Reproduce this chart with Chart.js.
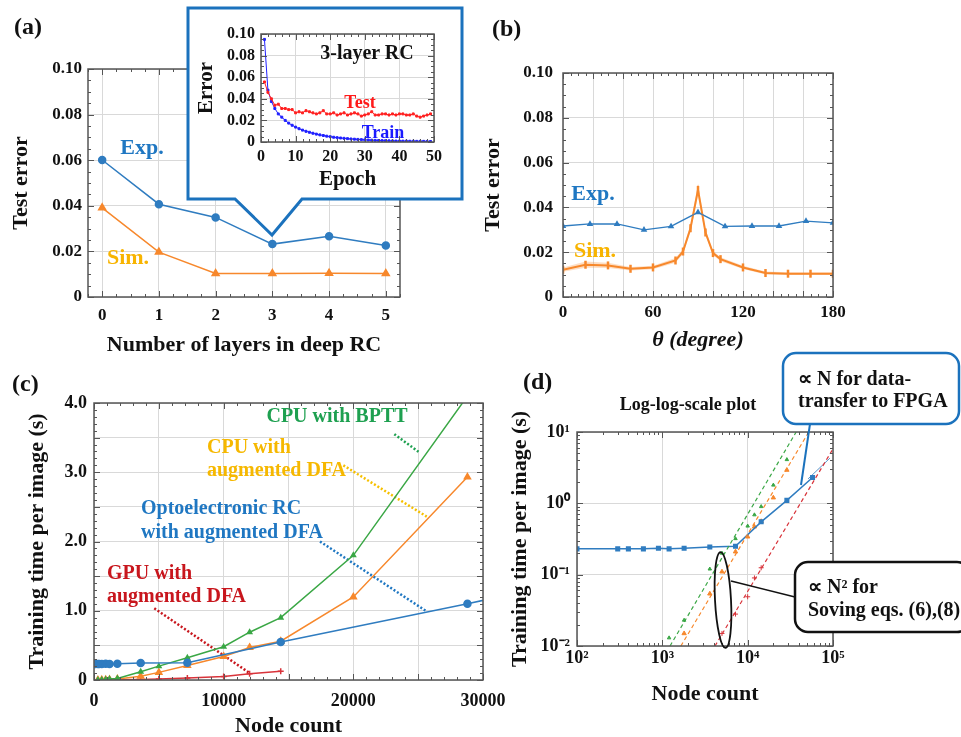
<!DOCTYPE html>
<html lang="en">
<head>
<meta charset="UTF-8" />
<title>Deep RC: test error and training time</title>
<script src="https://cdn.jsdelivr.net/npm/chart.js"></script>
<style>
  body { margin: 0; width: 961px; height: 737px; position: relative; overflow: hidden; background: #fff;
         font-family: "Liberation Serif", serif; font-weight: bold; color: #111; }
  .box { position: absolute; }
  .box canvas { display: block; }
  svg { position: absolute; left: 0; top: 0; }
  .t { position: absolute; white-space: nowrap; line-height: 1; }
  .c { transform: translate(-50%, -50%); }
  .l { transform: translateY(-50%); }
</style>
</head>
<body>
<div class="box" style="left:0;top:50px"><canvas id="chartA" width="410" height="312"></canvas></div>
<svg width="961" height="737">
  <path d="M188,8 H462 V199 H302 L272,235 L235,199 H188 Z" fill="#fff" stroke="#1b72bd" stroke-width="3" stroke-linejoin="miter"/>
</svg>
<div class="box" style="left:190px;top:10px"><canvas id="chartInset" width="268" height="188"></canvas></div>
<div class="box" style="left:480px;top:50px"><canvas id="chartB" width="377" height="312"></canvas></div>
<div class="box" style="left:0;top:370px"><canvas id="chartC" width="519" height="370"></canvas></div>
<div class="box" style="left:500px;top:370px"><canvas id="chartD" width="357" height="370"></canvas></div>
<svg width="961" height="737">
  <rect x="783" y="353" width="176" height="71" rx="13" fill="#fff" stroke="#1b72bd" stroke-width="2.5"/>
  <line x1="810" y1="424" x2="801" y2="485" stroke="#1b72bd" stroke-width="2"/>
  <ellipse cx="723" cy="600" rx="8" ry="48" transform="rotate(-3 723 600)" fill="none" stroke="#111" stroke-width="1.8"/>
  <line x1="731" y1="581" x2="795" y2="597" stroke="#111" stroke-width="1.5"/>
  <rect x="795" y="562" width="175" height="70" rx="13" fill="#fff" stroke="#111" stroke-width="2.5"/>
</svg>

<div class="t l" style="left:14px;top:26px;font-size:24px">(a)</div>
<div class="t c" style="left:142px;top:147px;font-size:22px;color:#1f77c2">Exp.</div>
<div class="t c" style="left:128px;top:257px;font-size:22px;color:#f8b400">Sim.</div>
<div class="t c" style="left:367px;top:52px;font-size:20px">3-layer RC</div>
<div class="t c" style="left:360px;top:102px;font-size:18px;color:#ff1a1a">Test</div>
<div class="t c" style="left:383px;top:132px;font-size:18px;color:#1a1aff">Train</div>

<div class="t l" style="left:492px;top:28px;font-size:24px">(b)</div>
<div class="t c" style="left:593px;top:193px;font-size:22px;color:#1f77c2">Exp.</div>
<div class="t c" style="left:595px;top:250px;font-size:22px;color:#f8b400">Sim.</div>

<div class="t l" style="left:12px;top:383px;font-size:24px">(c)</div>
<div class="t c" style="left:337px;top:415px;font-size:20px;color:#1ea050">CPU with BPTT</div>
<div class="t l" style="left:207px;top:446px;font-size:20px;color:#f6b800">CPU with</div>
<div class="t l" style="left:207px;top:469px;font-size:20px;color:#f6b800">augmented DFA</div>
<div class="t l" style="left:141px;top:507px;font-size:20px;color:#1f77c2">Optoelectronic RC</div>
<div class="t l" style="left:141px;top:531px;font-size:20px;color:#1f77c2">with augmented DFA</div>
<div class="t l" style="left:107px;top:572px;font-size:20px;color:#c8161d">GPU with</div>
<div class="t l" style="left:107px;top:595px;font-size:20px;color:#c8161d">augmented DFA</div>

<div class="t l" style="left:523px;top:381px;font-size:24px">(d)</div>
<div class="t c" style="left:688px;top:404px;font-size:18px">Log-log-scale plot</div>
<div class="t l" style="left:798px;top:378px;font-size:20px">∝ N for data-</div>
<div class="t l" style="left:798px;top:400px;font-size:20px">transfer to FPGA</div>
<div class="t l" style="left:808px;top:586px;font-size:20px">∝ N² for</div>
<div class="t l" style="left:808px;top:609px;font-size:20px">Soving eqs. (6),(8)</div>

<script>
// ---- (a) test error vs number of layers ----
const layers = [0, 1, 2, 3, 4, 5]
const expA = [0.0601, 0.0407, 0.0349, 0.0232, 0.0266, 0.0226]
const simA = [0.0391, 0.0197, 0.0103, 0.0103, 0.0104, 0.0103]
const errTicks = [0, 0.02, 0.04, 0.06, 0.08, 0.1]

// ---- inset: 3-layer RC learning curve ----
const epochs = [1, 2, 3, 4, 5, 6, 7, 8, 9, 10, 11, 12, 13, 14, 15, 16, 17, 18, 19, 20,
  21, 22, 23, 24, 25, 26, 27, 28, 29, 30, 31, 32, 33, 34, 35, 36, 37, 38, 39, 40,
  41, 42, 43, 44, 45, 46, 47, 48, 49]
const testErr = [0.0556, 0.046, 0.040, 0.034, 0.035, 0.031, 0.031, 0.030, 0.030, 0.027,
  0.028, 0.027, 0.029, 0.028, 0.027, 0.026, 0.027, 0.029, 0.026, 0.026,
  0.027, 0.025, 0.026, 0.027, 0.025, 0.026, 0.027, 0.026, 0.024, 0.025,
  0.026, 0.028, 0.025, 0.025, 0.026, 0.026, 0.025, 0.026, 0.025, 0.026,
  0.026, 0.025, 0.025, 0.026, 0.024, 0.023, 0.024, 0.025, 0.026]
const trainErr = [0.095, 0.048, 0.0375, 0.031, 0.026, 0.023, 0.020, 0.0175, 0.0155, 0.0138,
  0.0123, 0.011, 0.0099, 0.009, 0.0081, 0.0073, 0.0066, 0.006, 0.0054, 0.0049,
  0.0044, 0.004, 0.0037, 0.0034, 0.0031, 0.0028, 0.0026, 0.0024, 0.0022, 0.002,
  0.0018, 0.0017, 0.0015, 0.0014, 0.0013, 0.0012, 0.0011, 0.001, 0.0009, 0.0009,
  0.0008, 0.0008, 0.0007, 0.0007, 0.0006, 0.0006, 0.0006, 0.0005, 0.0005]
const epochTicks = [0, 10, 20, 30, 40, 50]

// ---- (b) test error vs theta ----
const thetaExp = [0, 18, 36, 54, 72, 90, 108, 126, 144, 162, 180]
const errExp = [0.0317, 0.0326, 0.0326, 0.0300, 0.0315, 0.0378, 0.0315, 0.0317, 0.0317, 0.0339, 0.0331]
const thetaSim = [0, 15, 30, 45, 60, 75, 80, 85, 90, 95, 100, 105, 120, 135, 150, 165, 180]
const errSim = [0.0122, 0.0144, 0.0141, 0.0126, 0.0132, 0.0163, 0.0203, 0.0307, 0.0478, 0.0288, 0.0196, 0.0169, 0.0132, 0.0107, 0.0104, 0.0104, 0.0104]
const errSimHi = [0.0132, 0.0158, 0.0153, 0.0134, 0.0140, 0.0174, 0.0214, 0.0322, 0.0505, 0.0303, 0.0206, 0.0178, 0.0140, 0.0114, 0.0110, 0.0110, 0.0110]
const errSimLo = [0.0113, 0.0131, 0.0130, 0.0118, 0.0124, 0.0153, 0.0192, 0.0292, 0.0452, 0.0274, 0.0187, 0.0160, 0.0125, 0.0100, 0.0098, 0.0098, 0.0098]
const thetaTicks = [0, 20, 40, 60, 80, 100, 120, 140, 160, 180]

// ---- (c)/(d) training time per image vs node count ----
const nodeOpto = [100, 300, 400, 600, 900, 1200, 1800, 3600, 7200, 14400, 28800, 57600]
const timeOpto = [0.23, 0.23, 0.23, 0.23, 0.235, 0.23, 0.235, 0.245, 0.25, 0.55, 1.1, 2.3]
const nodeCpu = [300, 600, 900, 1200, 1800, 3600, 5000, 7200, 10000, 12000, 14400, 20000, 28800]
const timeBptt = [0.001, 0.003, 0.007, 0.013, 0.023, 0.12, 0.2, 0.32, 0.48, 0.69, 0.9, 1.8, 4.1]
const timeCpuDfa = [0.0005, 0.002, 0.004, 0.007, 0.015, 0.054, 0.11, 0.21, 0.34, 0.47, 0.56, 1.2, 2.93]
const nodeGpu = [300, 600, 900, 1200, 1800, 3600, 5000, 7200, 10000, 12000, 14400]
const timeGpu = [0.0003, 0.0006, 0.001, 0.0015, 0.003, 0.008, 0.015, 0.028, 0.049, 0.09, 0.125]
const timeTicksC = [0, 0.5, 1, 1.5, 2, 2.5, 3, 3.5, 4]
const nodeTicksC = [0, 5000, 10000, 15000, 20000, 25000, 30000]
const decadeTicksX = [100, 1000, 10000, 100000]
const decadeTicksY = [0.01, 0.1, 1, 10]
const supLabels = { 0.01: '10⁻²', 0.1: '10⁻¹', 1: '10⁰', 10: '10¹', 100: '10²', 1000: '10³', 10000: '10⁴', 100000: '10⁵' }

// dotted leader lines of (c), label -> curve
const leadBpttN = [23160, 25140], leadBpttT = [3.55, 3.28]
const leadCpuN = [19230, 25660], leadCpuT = [3.1, 2.36]
const leadOptoN = [17430, 25660], leadOptoT = [2.0, 0.99]
const leadGpuN = [4650, 12030], leadGpuT = [1.035, 0.097]

// power-law guide lines of (d)
const fitBpttN = [1230, 37000], fitBpttT = [0.01, 10]
const fitCpuN = [1650, 52000], fitCpuT = [0.01, 10]
const fitGpuN = [4140, 100000], fitGpuT = [0.01, 5.8]
const fitOptoN = [51000, 92000], fitOptoT = [2.2, 4.3]

const BLUE = '#2f7cc0', ORANGE = '#f7882c', GREEN = '#3aa745', RED = '#d8333a'

Chart.defaults.font.family = '"Liberation Serif", serif'
Chart.defaults.font.weight = 'bold'
Chart.defaults.color = '#111'

const pts = (xs, ys) => xs.map((x, i) => ({ x: x, y: ys[i] }))

function minorValues(scale, step) {
  const out = []
  if (step === 'log') {
    const d0 = Math.round(Math.log10(scale.min)), d1 = Math.round(Math.log10(scale.max))
    for (let d = d0; d < d1; d++) for (let m = 2; m < 10; m++) out.push(m * Math.pow(10, d))
  } else if (step) {
    const n = Math.round((scale.max - scale.min) / step)
    for (let i = 0; i <= n; i++) out.push(scale.min + i * step)
  }
  return out
}

// Mathematica-like frame with inward ticks on all four sides
const framePlugin = {
  id: 'frame',
  afterDatasetsDraw(chart, args, o) {
    const { ctx, chartArea: a } = chart
    const xs = chart.scales.x, ys = chart.scales.y
    ctx.save()
    ctx.strokeStyle = '#555'
    ctx.lineWidth = 1
    ctx.beginPath()
    const xm = (vals, len) => vals.forEach(v => {
      const p = Math.round(xs.getPixelForValue(v)) + 0.5
      if (p < a.left - 1 || p > a.right + 1) return
      ctx.moveTo(p, a.bottom); ctx.lineTo(p, a.bottom - len)
      ctx.moveTo(p, a.top); ctx.lineTo(p, a.top + len)
    })
    const ym = (vals, len) => vals.forEach(v => {
      const p = Math.round(ys.getPixelForValue(v)) + 0.5
      if (p < a.top - 1 || p > a.bottom + 1) return
      ctx.moveTo(a.left, p); ctx.lineTo(a.left + len, p)
      ctx.moveTo(a.right, p); ctx.lineTo(a.right - len, p)
    })
    xm(xs.ticks.map(t => t.value), 6)
    ym(ys.ticks.map(t => t.value), 6)
    xm(minorValues(xs, o.xMinor), 3)
    ym(minorValues(ys, o.yMinor), 3)
    ctx.stroke()
    ctx.lineWidth = 1.5
    ctx.strokeRect(a.left, a.top, a.right - a.left, a.bottom - a.top)
    ctx.restore()
  }
}
Chart.register(framePlugin)

function axis(o) {
  return {
    type: o.type || 'linear',
    min: o.min,
    max: o.max,
    afterBuildTicks: s => { s.ticks = o.ticks.map(v => ({ value: v })) },
    afterFit: s => { if (s.isHorizontal()) s.height = o.size; else s.width = o.size },
    grid: { color: '#d9d9d9', lineWidth: 1, drawTicks: false },
    border: { display: false },
    ticks: { callback: o.label, font: { size: o.fs || 17 }, padding: o.pad, autoSkip: false, maxRotation: 0, color: '#111' },
    title: {
      display: true, text: o.title, color: '#111',
      font: { size: o.tfs || 22, style: o.italic ? 'italic' : 'normal' },
      padding: o.tpad
    }
  }
}

function options(padding, x, y, minor) {
  return {
    responsive: false,
    animation: false,
    events: [],
    layout: { padding: padding },
    elements: { line: { tension: 0 } },
    plugins: { legend: { display: false }, tooltip: { enabled: false }, frame: minor },
    scales: { x: axis(x), y: axis(y) }
  }
}

const errLabel = v => (v === 0 ? '0' : v.toFixed(2))

// (a)
new Chart(document.getElementById('chartA'), {
  type: 'line',
  data: {
    datasets: [
      { data: pts(layers, expA), borderColor: BLUE, backgroundColor: BLUE, borderWidth: 1.5, pointRadius: 3.5, pointStyle: 'circle' },
      { data: pts(layers, simA), borderColor: ORANGE, backgroundColor: ORANGE, borderWidth: 1.5, pointRadius: 4, pointStyle: 'triangle' }
    ]
  },
  options: options({ top: 19, right: 10, left: 0, bottom: 0 },
    { min: -0.25, max: 5.25, ticks: layers, label: v => String(v), size: 65, pad: 8, title: 'Number of layers in deep RC', tpad: { top: 0, bottom: 3 } },
    { min: 0, max: 0.1, ticks: errTicks, label: errLabel, size: 88, pad: 6, title: 'Test error', tpad: { top: 8, bottom: 0 } },
    { xMinor: 0.25, yMinor: 0.005 })
})

// inset
new Chart(document.getElementById('chartInset'), {
  type: 'line',
  data: {
    datasets: [
      { data: pts(epochs, testErr), borderColor: '#ff2020', backgroundColor: '#ff2020', borderWidth: 1, pointRadius: 1.4, pointStyle: 'rect' },
      { data: pts(epochs, trainErr), borderColor: '#2020ff', backgroundColor: '#2020ff', borderWidth: 1, pointRadius: 1.4, pointStyle: 'rect' }
    ]
  },
  options: options({ top: 24, right: 24, left: 0, bottom: 0 },
    { min: 0, max: 50, ticks: epochTicks, label: v => String(v), size: 56, pad: 5, fs: 16, title: 'Epoch', tfs: 21, tpad: { top: 0, bottom: 6 } },
    { min: 0, max: 0.1, ticks: errTicks, label: errLabel, size: 71, pad: 6, fs: 16, title: 'Error', tfs: 21, tpad: { top: 4, bottom: 0 } },
    { xMinor: 2, yMinor: 0.005 })
})

// (b)
new Chart(document.getElementById('chartB'), {
  type: 'line',
  data: {
    datasets: [
      { data: pts(thetaSim, errSimHi), borderWidth: 0, pointRadius: 0, fill: false },
      { data: pts(thetaSim, errSimLo), borderWidth: 0, pointRadius: 0, fill: '-1', backgroundColor: 'rgba(247,136,44,0.28)' },
      { data: pts(thetaExp, errExp), borderColor: BLUE, backgroundColor: BLUE, borderWidth: 1.3, pointRadius: 2.5, pointStyle: 'triangle' },
      { data: pts(thetaSim, errSim), borderColor: ORANGE, backgroundColor: ORANGE, borderWidth: 2, pointRadius: 4, pointStyle: 'line', pointRotation: 90, pointBorderWidth: 2.5 }
    ]
  },
  options: options({ top: 23, right: 24, left: 0, bottom: 0 },
    { min: 0, max: 180, ticks: thetaTicks, label: v => (v % 60 === 0 ? String(v) : ''), size: 65, pad: 5, title: 'θ (degree)', italic: true, tpad: { top: 0, bottom: 8 } },
    { min: 0, max: 0.1, ticks: errTicks, label: errLabel, size: 83, pad: 10, title: 'Test error', tpad: { top: 0, bottom: 0 } },
    { xMinor: 5, yMinor: 0.005 })
})

// (c)
const dotted = (xs, ys, color) => ({ data: pts(xs, ys), borderColor: color, borderWidth: 2.5, borderDash: [2, 2], pointRadius: 0 })
new Chart(document.getElementById('chartC'), {
  type: 'line',
  data: {
    datasets: [
      { data: pts(nodeOpto, timeOpto), borderColor: BLUE, backgroundColor: BLUE, borderWidth: 1.5, pointRadius: 3.5, pointStyle: 'circle' },
      { data: pts(nodeCpu, timeBptt), borderColor: GREEN, backgroundColor: GREEN, borderWidth: 1.5, pointRadius: 2.5, pointStyle: 'triangle' },
      { data: pts(nodeCpu, timeCpuDfa), borderColor: ORANGE, backgroundColor: ORANGE, borderWidth: 1.5, pointRadius: 3.5, pointStyle: 'triangle' },
      { data: pts(nodeGpu, timeGpu), borderColor: RED, backgroundColor: RED, borderWidth: 1.5, pointRadius: 3, pointStyle: 'cross' },
      dotted(leadBpttN, leadBpttT, '#1ea050'),
      dotted(leadCpuN, leadCpuT, '#f6c000'),
      dotted(leadOptoN, leadOptoT, '#1f77c2'),
      dotted(leadGpuN, leadGpuT, '#c8161d')
    ]
  },
  options: options({ top: 33, right: 36, left: 0, bottom: 0 },
    { min: 0, max: 30000, ticks: nodeTicksC, label: v => (v % 10000 === 0 ? String(v) : ''), size: 60, pad: 11, fs: 18, title: 'Node count', tpad: { top: 0, bottom: 0 } },
    { min: 0, max: 4, ticks: timeTicksC, label: v => (v === 0 ? '0' : Number.isInteger(v) ? v.toFixed(1) : ''), size: 94, pad: 7, fs: 18, title: 'Training time per image (s)', tpad: { top: 24, bottom: 0 } },
    { xMinor: 1000, yMinor: 0.1 })
})

// (d)
const guide = (xs, ys, color, w, dash) => ({ data: pts(xs, ys), borderColor: color, borderWidth: w, borderDash: dash, pointRadius: 0 })
new Chart(document.getElementById('chartD'), {
  type: 'line',
  data: {
    datasets: [
      guide(fitBpttN, fitBpttT, GREEN, 1.2, [4, 3]),
      guide(fitCpuN, fitCpuT, ORANGE, 1.2, [4, 3]),
      guide(fitGpuN, fitGpuT, RED, 1.2, [4, 3]),
      guide(fitOptoN, fitOptoT, BLUE, 0.8, []),
      { data: pts(nodeOpto, timeOpto), borderColor: BLUE, backgroundColor: BLUE, borderWidth: 1.5, pointRadius: 2.5, pointStyle: 'rect' },
      { data: pts(nodeCpu, timeBptt), showLine: false, borderColor: GREEN, backgroundColor: GREEN, pointRadius: 2, pointStyle: 'triangle' },
      { data: pts(nodeCpu, timeCpuDfa), showLine: false, borderColor: ORANGE, backgroundColor: ORANGE, pointRadius: 2.5, pointStyle: 'triangle' },
      { data: pts(nodeGpu, timeGpu), showLine: false, borderColor: RED, backgroundColor: RED, pointRadius: 2.5, pointStyle: 'cross' }
    ]
  },
  options: options({ top: 62, right: 24, left: 0, bottom: 0 },
    { type: 'logarithmic', min: 100, max: 100000, ticks: decadeTicksX, label: v => supLabels[v], size: 94, pad: 2, fs: 18, title: 'Node count', tpad: { top: 0, bottom: 32 } },
    { type: 'logarithmic', min: 0.01, max: 10, ticks: decadeTicksY, label: v => supLabels[v], size: 77, pad: 7, fs: 18, title: 'Training time per image (s)', tpad: { top: 7, bottom: 0 } },
    { xMinor: 'log', yMinor: 'log' })
})
</script>
</body>
</html>
